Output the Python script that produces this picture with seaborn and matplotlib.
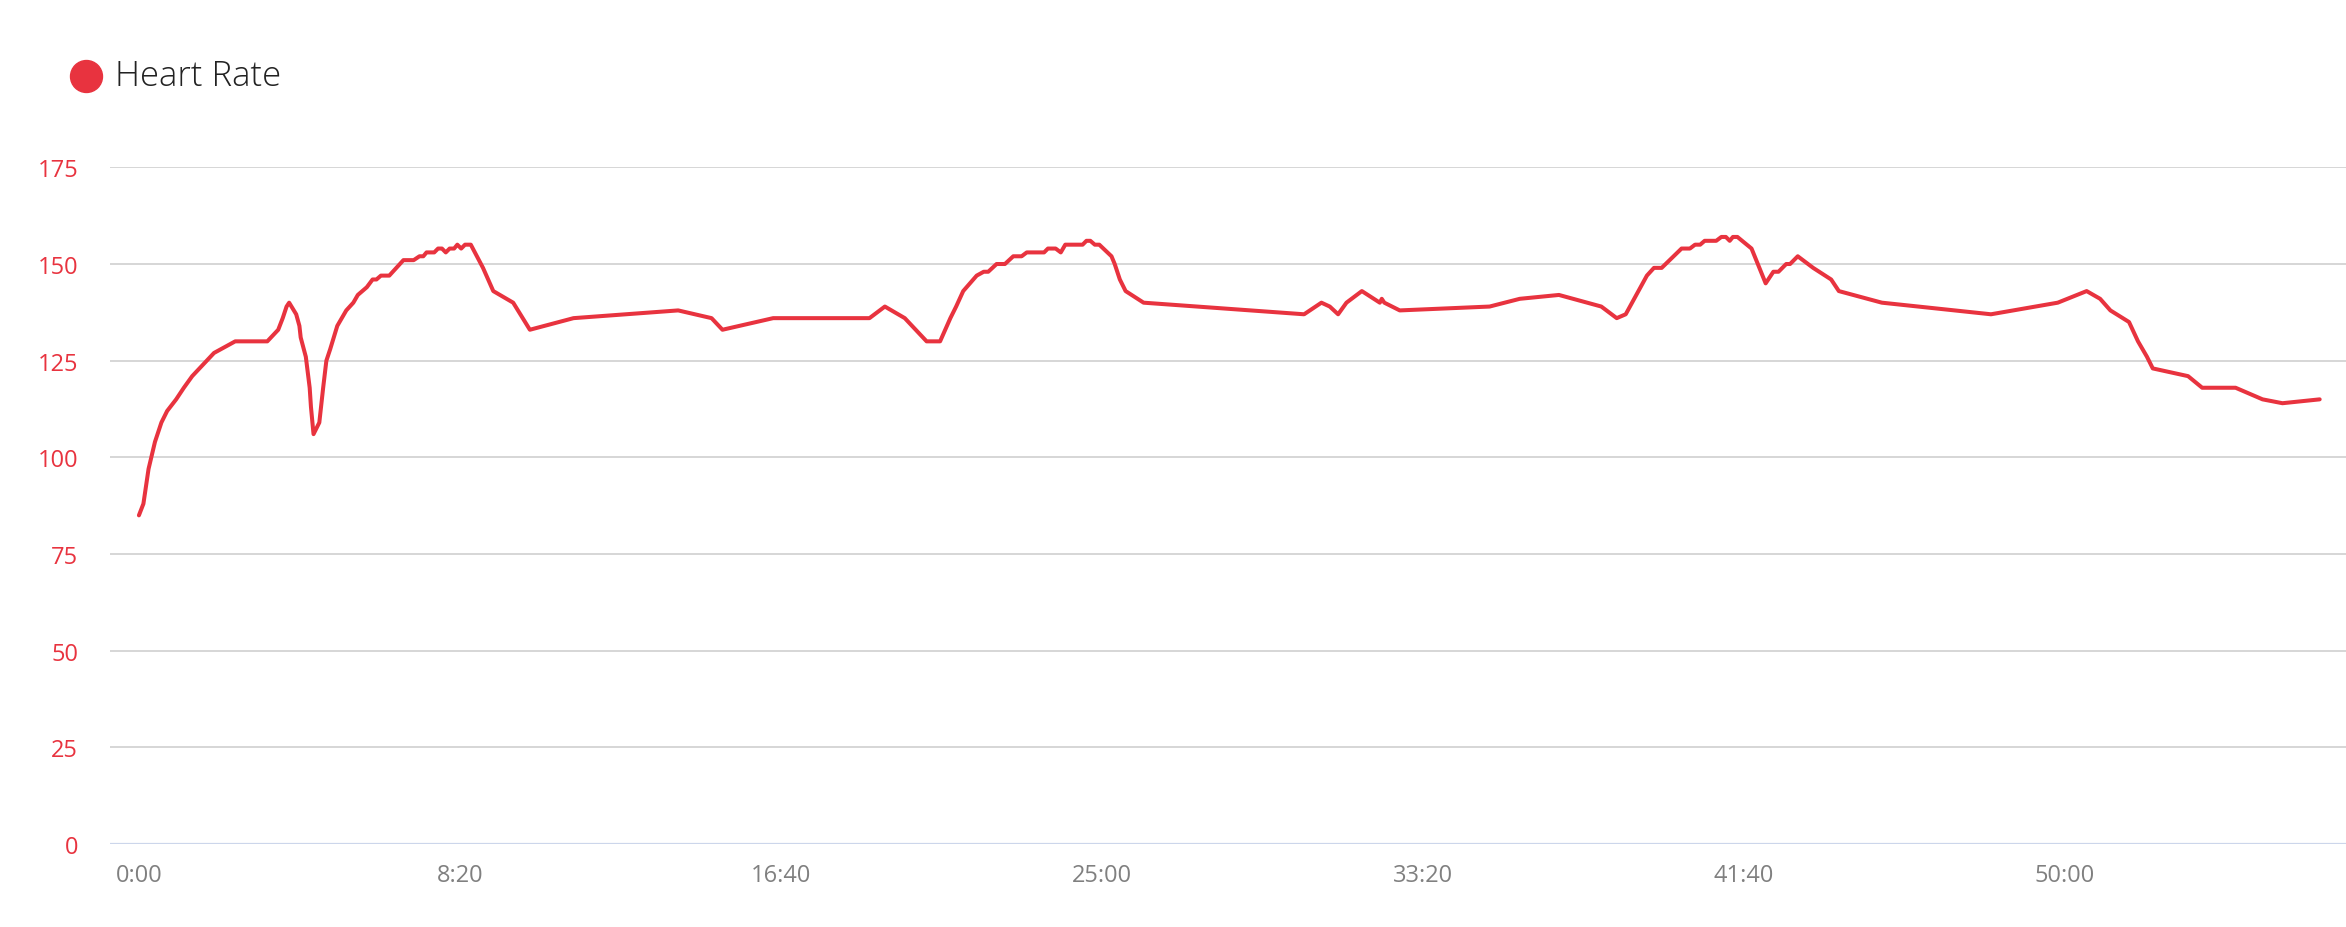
import seaborn as sns
import matplotlib.pyplot as plt
import matplotlib.ticker as mticker
import pandas as pd

# elapsed time in seconds and heart rate (bpm)
seconds = [0, 7, 15, 25, 35, 44, 58, 70, 83, 100, 117, 150, 200, 217, 224, 230, 234,
           245, 250, 252, 260, 266, 268, 272, 281, 287, 292, 298, 309, 323, 334, 341,
           355, 364, 370, 377, 390, 412, 428, 437, 443, 448, 460, 466, 472, 478, 484,
           491, 496, 502, 508, 517, 536, 552, 583, 609, 677, 840, 892, 909, 988, 1138,
           1162, 1193, 1227, 1248, 1264, 1273, 1284, 1305, 1316, 1323, 1336, 1349, 1362,
           1375, 1383, 1410, 1416, 1428, 1436, 1443, 1470, 1476, 1482, 1489, 1496, 1515,
           1520, 1528, 1537, 1565, 1815, 1842, 1855, 1868, 1881, 1905, 1933, 1936, 1940,
           1964, 2104, 2151, 2212, 2278, 2302, 2316, 2349, 2360, 2372, 2403, 2416, 2424,
           2432, 2439, 2457, 2465, 2472, 2478, 2483, 2490, 2512, 2534, 2546, 2554, 2566,
           2572, 2584, 2608, 2636, 2648, 2715, 2885, 2989, 3034, 3055, 3071, 3100, 3114,
           3128, 3137, 3192, 3214, 3266, 3308, 3339, 3397]
heart_rate = [85, 88, 97, 104, 109, 112, 115, 118, 121, 124, 127, 130, 130, 133, 136, 139, 140,
              137, 134, 131, 126, 118, 113, 106, 109, 118, 125, 128, 134, 138, 140, 142,
              144, 146, 146, 147, 147, 151, 151, 152, 152, 153, 153, 154, 154, 153, 154,
              154, 155, 154, 155, 155, 149, 143, 140, 133, 136, 138, 136, 133, 136, 136,
              139, 136, 130, 130, 136, 139, 143, 147, 148, 148, 150, 150, 152,
              152, 153, 153, 154, 154, 153, 155, 155, 156, 156, 155, 155, 152,
              150, 146, 143, 140, 137, 140, 139, 137, 140, 143, 140, 141, 140,
              138, 139, 141, 142, 139, 136, 137, 147, 149, 149, 154, 154, 155,
              155, 156, 156, 157, 157, 156, 157, 157, 154, 145, 148, 148, 150,
              150, 152, 149, 146, 143, 140, 137, 140, 143, 141, 138, 135, 130,
              126, 123, 121, 118, 118, 115, 114, 115]

y_ticks = [0, 25, 50, 75, 100, 125, 150, 175]
x_ticks = [0, 500, 1000, 1500, 2000, 2500, 3000]

df = pd.DataFrame({"seconds": seconds, "heart_rate": heart_rate})

red = "#e8333f"

sns.set_style("white")
plt.rcParams["font.family"] = ["Open Sans", "DejaVu Sans"]

fig = plt.figure(figsize=(23.46, 9.28), dpi=100)
ax = fig.add_axes([0.0469, 0.0894, 0.9531, 0.7292])

sns.lineplot(data=df, x="seconds", y="heart_rate", ax=ax, color=red, linewidth=2.9,
             zorder=3)

ax.set_xlim(-45, 3438)
ax.set_ylim(0, 175)
ax.set_yticks(y_ticks)
ax.set_xticks(x_ticks)
ax.xaxis.set_major_formatter(mticker.FuncFormatter(
    lambda t, _: f"{int(t // 60)}:{int(t % 60):02d}"))

ax.grid(axis="y", color="#d6d6d6", linewidth=1.4)
ax.grid(axis="x", visible=False)
ax.axhline(0, color="#ccd6eb", linewidth=1.6, zorder=2)
sns.despine(ax=ax, left=True, bottom=True, top=True, right=True)

ax.tick_params(axis="y", length=0, pad=23, labelsize=17, labelcolor=red)
ax.tick_params(axis="x", length=0, pad=14, labelsize=17, labelcolor="#808080")
ax.set_xlabel("")
ax.set_ylabel("")

# legend: red dot and series name
ax.plot([0.0367], [0.917], marker="o", markersize=23, color=red,
        transform=fig.transFigure, clip_on=False)
fig.text(0.049, 0.917, "Heart Rate", fontsize=25, fontweight="light",
         color="#222222", va="center", ha="left")

fig.savefig("out.png", dpi=100)
